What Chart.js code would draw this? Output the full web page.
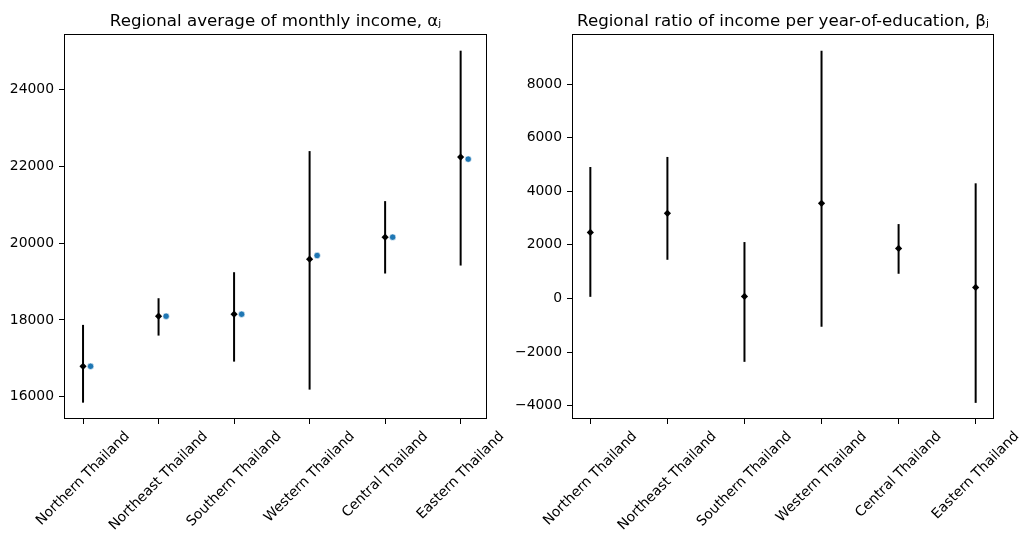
<!DOCTYPE html>
<html><head><meta charset="utf-8">
<script src="https://cdn.jsdelivr.net/npm/chart.js@4"></script>
<style>
html,body{margin:0;padding:0;background:#fff;overflow:hidden;}
#wrap{position:relative;width:1030px;height:543px;background:#fff;}
canvas{position:absolute;top:0;}
</style></head><body>
<div id="wrap">
<canvas id="c1" width="515" height="543" style="left:0px"></canvas>
<canvas id="c2" width="515" height="543" style="left:515px"></canvas>
</div>
<script>
// ---- data ----
const regions = ["Northern Thailand","Northeast Thailand","Southern Thailand","Western Thailand","Central Thailand","Eastern Thailand"];
const alphaMean = [16791, 18096, 18148, 19583, 20157, 22244];
const alphaLow  = [15843, 17591, 16913, 16183, 19209, 19417];
const alphaHigh = [17870, 18565, 19243, 22400, 21096, 25017];
const alphaObs  = [16791, 18096, 18148, 19678, 20157, 22191];
const betaMean  = [2465, 3175, 75, 3548, 1867, 411];
const betaLow   = [60, 1443, -2365, -1058, 921, -3896];
const betaHigh  = [4905, 5280, 2104, 9245, 2775, 4296];
const alphaTicks = [16000, 18000, 20000, 22000, 24000];
const betaTicks  = [-4000, -2000, 0, 2000, 4000, 6000, 8000];
const alphaTitle = "Regional average of monthly income, \u03B1\u2C7C";
const betaTitle  = "Regional ratio of income per year-of-education, \u03B2\u2C7C";

Chart.defaults.font.family = "'DejaVu Sans', sans-serif";
Chart.defaults.color = '#000';

const FS = 13.9;

const framePlugin = {
  id: 'frame',
  afterDraw(chart) {
    const {ctx, chartArea: a} = chart;
    ctx.save();
    ctx.strokeStyle = '#000';
    ctx.lineWidth = 1;
    ctx.strokeRect(Math.round(a.left) + 0.5, Math.round(a.top) + 0.5,
                   Math.round(a.right - a.left) - 1, Math.round(a.bottom - a.top) - 1);
    // rotated x tick labels, centred on each tick like matplotlib
    const xs = chart.scales.x;
    ctx.font = FS + "px 'DejaVu Sans'";
    ctx.fillStyle = '#000';
    ctx.textAlign = 'center';
    ctx.textBaseline = 'middle';
    const top = a.bottom + 5 + 4.5;
    xs.ticks.forEach(t => {
      const label = t.label;
      const x = xs.getPixelForValue(t.value);
      const w = ctx.measureText(label).width;
      const h = FS * 1.17;
      const half = (w + h) * Math.SQRT1_2 / 2;
      ctx.save();
      ctx.translate(x, top + half);
      ctx.rotate(-Math.PI / 4);
      ctx.fillText(label, 0, 0);
      ctx.restore();
    });
    ctx.restore();
  }
};

function fmt(v) { return v < 0 ? '\u2212' + Math.abs(v) : String(v); }

function makeChart(id, cfg) {
  const datasets = [
    {
      type: 'scatter',
      data: cfg.mean.map((v, i) => ({x: i, y: v})),
      pointStyle: 'rectRot', pointRadius: 3.6, pointHoverRadius: 3.6,
      backgroundColor: '#000', borderColor: '#000', borderWidth: 0
    },
    {
      type: 'bar',
      data: cfg.low.map((v, i) => ({x: i, y: [v, cfg.high[i]]})),
      backgroundColor: '#000', borderWidth: 0, barThickness: 2, inflateAmount: 0
    }
  ];
  if (cfg.obs) {
    datasets.push({
      type: 'scatter',
      data: cfg.obs.map((v, i) => ({x: i + 0.1, y: v})),
      pointStyle: 'circle', pointRadius: 3.2, pointHoverRadius: 3.2,
      backgroundColor: '#1f77b4', borderColor: '#fff', borderWidth: 0.6
    });
  }
  return new Chart(document.getElementById(id), {
    type: 'scatter',
    data: {datasets},
    plugins: [framePlugin],
    options: {
      responsive: false, animation: false, devicePixelRatio: 1,
      layout: {padding: {left: 0, right: cfg.padRight, top: 0, bottom: 0}},
      plugins: {
        legend: {display: false}, tooltip: {enabled: false},
        title: {
          display: true, text: cfg.title, fullSize: false,
          font: {size: 16.67, weight: 'normal', lineHeight: 1.2},
          color: '#000', padding: {top: 12, bottom: 2}
        }
      },
      scales: {
        x: {
          type: 'linear', min: cfg.xmin, max: cfg.xmax, offset: false,
          afterBuildTicks: s => { s.ticks = regions.map((r, i) => ({value: i})); },
          ticks: {display: false, callback: (v) => regions[v] },
          grid: {offset: false, drawOnChartArea: false, drawTicks: true, tickLength: 5, tickColor: '#000', tickWidth: 1},
          border: {display: false},
          afterFit: s => { s.height = 124; }
        },
        y: {
          type: 'linear', min: cfg.ymin, max: cfg.ymax,
          afterBuildTicks: s => { s.ticks = cfg.ticks.map(v => ({value: v})); },
          ticks: {font: {size: FS}, color: '#000', padding: 5, callback: v => fmt(v)},
          grid: {offset: false, drawOnChartArea: false, drawTicks: true, tickLength: 5, tickColor: '#000', tickWidth: 1},
          border: {display: false},
          afterFit: s => { s.width = cfg.yWidth; }
        }
      }
    }
  });
}

makeChart('c1', {
  mean: alphaMean, low: alphaLow, high: alphaHigh, obs: alphaObs,
  title: alphaTitle, ticks: alphaTicks,
  xmin: -0.252, xmax: 5.349, ymin: 15417, ymax: 25452,
  yWidth: 64, padRight: 28
});
makeChart('c2', {
  mean: betaMean, low: betaLow, high: betaHigh, obs: null,
  title: betaTitle, ticks: betaTicks,
  xmin: -0.238, xmax: 5.238, ymin: -4498, ymax: 9867,
  yWidth: 57, padRight: 36
});
</script>
</body></html>
